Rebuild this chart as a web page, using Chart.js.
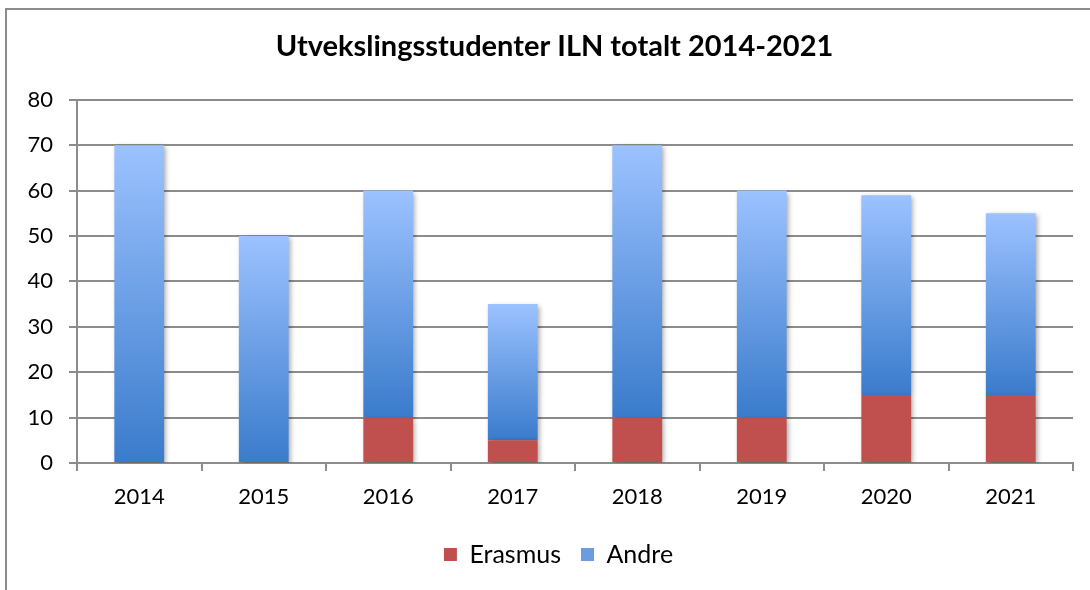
<!DOCTYPE html>
<html>
<head>
<meta charset="utf-8">
<script src="https://cdn.jsdelivr.net/npm/chart.js@4"></script>
<style>
  html, body { margin: 0; padding: 0; background: #fff; }
  #wrap { position: relative; width: 1090px; height: 590px; overflow: hidden; }
  #frame { position: absolute; left: 5px; top: 8px; width: 1200px; height: 700px; border: 2px solid #8c8c8c; }
  #chart { position: absolute; left: 0; top: 0; }
</style>
</head>
<body>
<div id="wrap">
  <div id="frame"></div>
  <canvas id="chart" width="1090" height="590"></canvas>
</div>
<script>
const years = ['2014', '2015', '2016', '2017', '2018', '2019', '2020', '2021'];
const erasmus = [0, 0, 10, 5, 10, 10, 15, 15];
const andre = [70, 50, 50, 30, 60, 50, 44, 40];
const yTicks = [0, 10, 20, 30, 40, 50, 60, 70, 80];

const FONT = 'Lato, "Open Sans", sans-serif';

// blue gradient per bar, dark at the bottom of the segment, light at the top
function andreColor(context) {
    const chart = context.chart;
    const area = chart.chartArea;
    const y = chart.scales.y;
    if (!area || !y || context.dataIndex === undefined) return '#6b9be0';
    const i = context.dataIndex;
    const bottom = y.getPixelForValue(erasmus[i]);
    const top = y.getPixelForValue(erasmus[i] + andre[i]);
    const g = chart.ctx.createLinearGradient(0, bottom, 0, top);
    g.addColorStop(0, '#3a7bcb');
    g.addColorStop(1, '#9cc2ff');
    return g;
}

const barShadow = {
    id: 'barShadow',
    beforeDatasetsDraw(chart) {
        const ctx = chart.ctx;
        ctx.save();
        ctx.shadowColor = 'rgba(0,0,0,0.35)';
        ctx.shadowBlur = 5;
        ctx.shadowOffsetX = 2;
        ctx.shadowOffsetY = 2;
    },
    afterDatasetsDraw(chart) {
        chart.ctx.restore();
    }
};

// title and legend in the original sit a bit right of centre
const blockShift = {
    id: 'blockShift',
    afterLayout(chart) {
        chart.legend.left += 22;
        chart.legend.right += 22;
        chart.titleBlock.left += 36;
    }
};

var ctx = document.getElementById('chart').getContext('2d');
var chart = new Chart(ctx, {
    type: 'bar',
    data: {
        labels: years,
        datasets: [{
            label: 'Erasmus',
            data: erasmus,
            backgroundColor: '#c0504d',
            barPercentage: 0.4,
            categoryPercentage: 1.0
        }, {
            label: 'Andre',
            data: andre,
            backgroundColor: andreColor,
            barPercentage: 0.4,
            categoryPercentage: 1.0
        }]
    },
    plugins: [barShadow, blockShift],
    options: {
        responsive: false,
        animation: false,
        layout: { padding: { left: 0, right: 17, top: 20, bottom: 13 } },
        plugins: {
            title: {
                display: true,
                text: 'Utvekslingsstudenter ILN totalt 2014-2021',
                color: '#000',
                font: { family: FONT, size: 29, weight: 'bold' },
                padding: { top: 9, bottom: 36 }
            },
            legend: {
                position: 'bottom',
                labels: {
                    color: '#000',
                    font: { family: FONT, size: 25 },
                    boxWidth: 13,
                    boxHeight: 13,
                    padding: 20,
                    generateLabels(chart) {
                        return [
                            { text: 'Erasmus', fillStyle: '#c0504d', strokeStyle: '#c0504d', lineWidth: 0, datasetIndex: 0 },
                            { text: 'Andre', fillStyle: '#6b9be0', strokeStyle: '#6b9be0', lineWidth: 0, datasetIndex: 1 }
                        ];
                    }
                }
            },
            tooltip: { enabled: false }
        },
        scales: {
            x: {
                stacked: true,
                grid: { drawOnChartArea: false, drawTicks: true, tickLength: 8, color: '#8c8c8c', lineWidth: 2 },
                border: { color: '#8c8c8c', width: 2 },
                ticks: { color: '#000', font: { family: FONT, size: 22 }, padding: 13 },
                afterFit(scale) { scale.height = 59; }
            },
            y: {
                stacked: true,
                min: 0,
                max: 80,
                grid: { color: '#8c8c8c', lineWidth: 2, tickLength: 8 },
                border: { color: '#8c8c8c', width: 2 },
                afterBuildTicks(scale) { scale.ticks = yTicks.map(v => ({ value: v })); },
                ticks: { color: '#000', font: { family: FONT, size: 22 }, padding: 16 },
                afterFit(scale) { scale.width = 77; }
            }
        }
    }
});
</script>
</body>
</html>
